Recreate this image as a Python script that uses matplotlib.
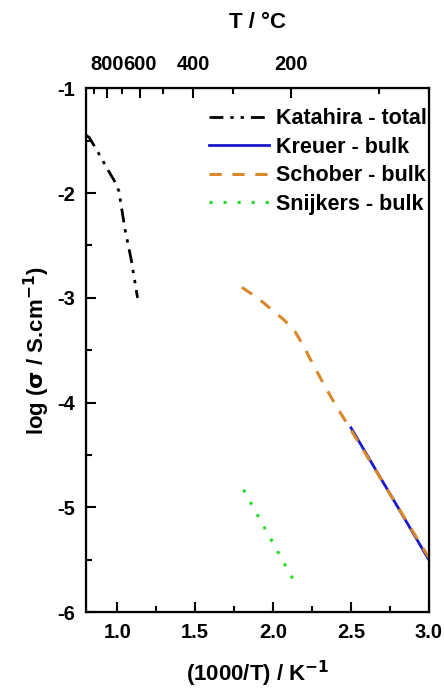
import numpy as np
import matplotlib.pyplot as plt
from matplotlib.ticker import MultipleLocator, FixedLocator

plt.rcParams['font.family'] = ['Liberation Sans', 'DejaVu Sans']
plt.rcParams['font.weight'] = 'bold'
plt.rcParams['axes.unicode_minus'] = False
plt.rcParams['mathtext.default'] = 'bf'

# conductivity data, x = 1000/T (K^-1), y = log(sigma / S cm^-1)
katahira_x = [0.80, 0.82, 0.88, 0.94, 0.98, 1.01, 1.05, 1.09, 1.13]
katahira_y = [-1.45, -1.47, -1.62, -1.78, -1.88, -1.98, -2.35, -2.64, -3.00]

kreuer_x = [2.50, 3.00]
kreuer_y = [-4.24, -5.50]

schober_x = [1.80, 1.90, 1.99, 2.07, 2.14, 2.20, 2.23, 2.32, 2.40, 2.50, 2.75, 3.00]
schober_y = [-2.90, -3.00, -3.11, -3.21, -3.32, -3.47, -3.56, -3.81, -4.02, -4.26, -4.87, -5.48]

snijkers_x = [1.81, 2.13]
snijkers_y = [-4.83, -5.69]

# temperature ticks for the top axis (degrees C)
top_major = [800, 600, 400, 200]
top_minor = [900, 700, 500, 300, 100]

fig = plt.figure(figsize=(4.44, 6.95), dpi=100)
ax = fig.add_axes([0.194, 0.119, 0.772, 0.754])

ax.plot(katahira_x, katahira_y, color='black', lw=2,
        dashes=(5, 2.5, 1.2, 2.5, 1.2, 2.5), label='Katahira - total')
ax.plot(kreuer_x, kreuer_y, color='#1a1acc', lw=2, label='Kreuer - bulk')
ax.plot(schober_x, schober_y, color='#d9882a', lw=2.2, dashes=(4, 3.5),
        label='Schober - bulk')
ax.plot(snijkers_x, snijkers_y, color='#22dd22', lw=2.2, dashes=(1, 3.6),
        label='Snijkers - bulk')

ax.set_xlim(0.8, 3.0)
ax.set_ylim(-6, -1)
ax.xaxis.set_major_locator(MultipleLocator(0.5))
ax.xaxis.set_minor_locator(MultipleLocator(0.25))
ax.yaxis.set_major_locator(MultipleLocator(1))
ax.yaxis.set_minor_locator(MultipleLocator(0.5))
ax.tick_params(which='both', direction='in', width=1.5, labelsize=14.5, pad=8)
ax.tick_params(which='major', length=7)
ax.tick_params(which='minor', length=4)
for s in ax.spines.values():
    s.set_linewidth(1.6)

ax.set_xlabel('(1000/T) / K$^{-1}$', fontsize=16, fontweight='bold', labelpad=12)
ax.set_ylabel('log ($\\sigma$ / S.cm$^{-1}$)', fontsize=16,
              fontweight='bold', labelpad=4)

top = ax.twiny()
top.set_xlim(ax.get_xlim())
top.xaxis.set_major_locator(FixedLocator([1000 / (t + 273.15) for t in top_major]))
top.xaxis.set_minor_locator(FixedLocator([1000 / (t + 273.15) for t in top_minor]))
top.set_xticklabels([str(t) for t in top_major])
top.tick_params(which='both', direction='in', width=1.5, labelsize=14.5, pad=10)
top.tick_params(which='major', length=7)
top.tick_params(which='minor', length=4)
top.set_xlabel('T / \u00b0C', fontsize=16, fontweight='bold', labelpad=20)

leg = ax.legend(loc='upper right', bbox_to_anchor=(1.0, 0.966), frameon=False,
                handlelength=2.8, handletextpad=0.3, labelspacing=0.35,
                borderaxespad=0, borderpad=0.1,
                prop={'weight': 'bold', 'size': 15.5})

fig.savefig('out.png', dpi=100)
